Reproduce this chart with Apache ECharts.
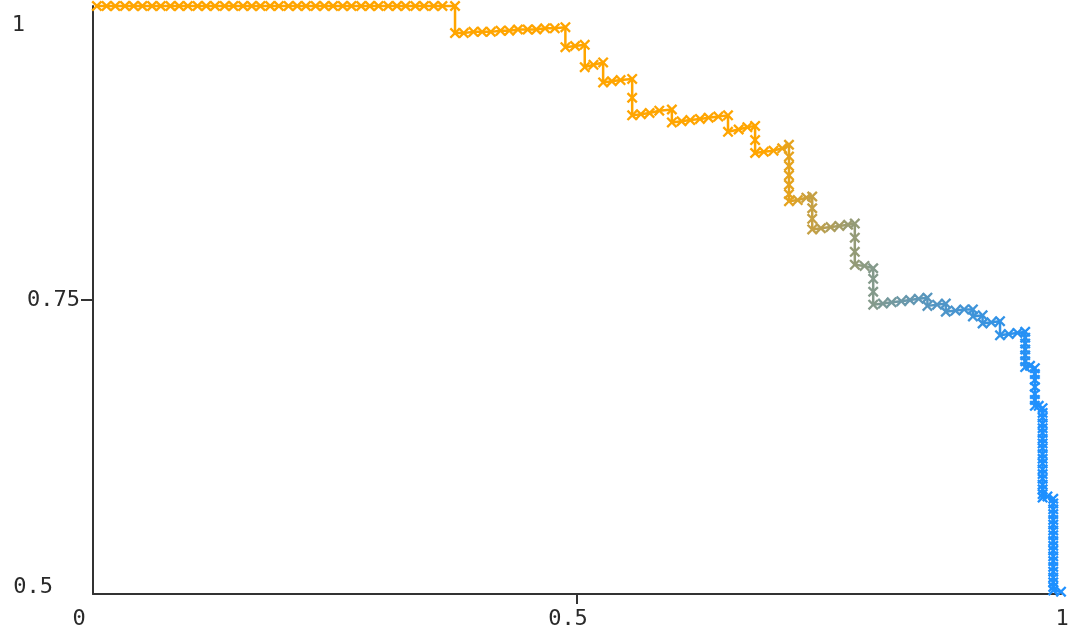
<!DOCTYPE html>
<html>
<head>
<meta charset="utf-8">
<script src="https://cdn.jsdelivr.net/npm/echarts@6/dist/echarts.min.js"></script>
<style>
html,body{margin:0;padding:0;background:#fff;}
#chart{width:1073px;height:642px;}
</style>
</head>
<body>
<div id="chart"></div>
<script>
// Recall (x) values
const recall = [
  0.004,0.014,0.023,0.033,0.042,0.051,0.061,0.070,0.080,0.089,
  0.098,0.108,0.117,0.126,0.136,0.145,0.155,0.164,0.173,0.183,
  0.192,0.202,0.211,0.220,0.230,0.239,0.248,0.258,0.267,0.277,
  0.286,0.295,0.305,0.314,0.323,0.333,0.342,0.352,0.361,0.374,
  0.374,0.383,0.393,0.402,0.411,0.421,0.430,0.439,0.449,0.458,0.467,0.477,0.488,
  0.488,0.498,0.508,
  0.508,0.517,0.527,
  0.527,0.536,0.545,0.557,
  0.557,0.557,0.566,0.575,0.585,0.598,
  0.598,0.608,0.617,0.627,0.636,0.646,0.656,
  0.656,0.667,0.676,0.684,
  0.684,0.684,0.693,0.703,0.712,0.719,
  0.719,0.719,0.719,0.719,0.719,0.719,
  0.728,0.737,0.743,
  0.743,0.743,0.743,
  0.752,0.762,0.771,0.780,0.787,
  0.787,0.787,0.787,
  0.797,0.806,
  0.806,0.806,0.806,
  0.816,0.825,0.835,0.844,0.853,0.862,
  0.862,0.872,0.881,
  0.881,0.891,0.900,0.909,
  0.909,0.919,
  0.919,0.928,0.937,
  0.937,0.946,0.955,0.963,
  0.963,0.963,0.963,0.963,0.963,0.963,
  0.968,0.973,
  0.973,0.973,0.973,0.973,0.973,0.973,
  0.977,0.981,
  0.981,0.981,0.981,0.981,0.981,0.981,0.981,0.981,0.981,0.981,
  0.981,0.981,0.981,0.981,0.981,0.981,0.981,0.981,
  0.986,0.992,
  0.992,0.992,0.992,0.992,0.992,0.992,0.992,0.992,0.992,0.992,
  0.992,0.992,0.992,0.992,0.992,0.992,0.992,0.992,
  1.000
];
// Precision (y) values
const precision = [
  1,1,1,1,1,1,1,1,1,1,
  1,1,1,1,1,1,1,1,1,1,
  1,1,1,1,1,1,1,1,1,1,
  1,1,1,1,1,1,1,1,1,1,
  0.977,0.977,0.978,0.978,0.978,0.979,0.979,0.980,0.980,0.980,0.981,0.981,0.982,
  0.965,0.966,0.967,
  0.948,0.950,0.952,
  0.935,0.936,0.937,0.938,
  0.922,0.907,0.908,0.909,0.911,0.912,
  0.901,0.902,0.903,0.904,0.905,0.906,0.907,
  0.893,0.895,0.897,0.898,
  0.886,0.875,0.876,0.877,0.879,0.882,
  0.872,0.864,0.856,0.848,0.840,0.834,
  0.835,0.837,0.838,
  0.828,0.819,0.810,
  0.811,0.812,0.813,0.814,0.815,
  0.803,0.791,0.780,
  0.779,0.777,
  0.768,0.757,0.746,
  0.747,0.748,0.749,0.750,0.751,0.752,
  0.745,0.746,0.747,
  0.740,0.741,0.742,0.742,
  0.736,0.737,
  0.730,0.731,0.732,
  0.720,0.721,0.722,0.723,
  0.718,0.713,0.708,0.703,0.698,0.693,
  0.694,0.692,
  0.687,0.682,0.676,0.670,0.665,0.660,
  0.660,0.658,
  0.654,0.650,0.645,0.641,0.637,0.632,0.628,0.624,0.619,0.615,
  0.611,0.606,0.602,0.598,0.593,0.589,0.585,0.582,
  0.583,0.581,
  0.577,0.572,0.568,0.563,0.559,0.554,0.550,0.545,0.541,0.537,
  0.532,0.528,0.523,0.519,0.514,0.510,0.506,0.503,
  0.502
];
const xTicks = [0, 0.5, 1];
const yTicks = [0.5, 0.75, 1];

const data = recall.map((r, i) => [r, precision[i]]);
const labelFont = {fontFamily: 'DejaVu Sans Mono', fontSize: 22, color: '#2a2a2a'};

const chart = echarts.init(document.getElementById('chart'), null, {renderer: 'canvas'});
chart.setOption({
  animation: false,
  backgroundColor: '#ffffff',
  grid: {left: 93, right: 12, top: 6, bottom: 48, containLabel: false},
  xAxis: {
    type: 'value', min: xTicks[0], max: xTicks[2], interval: xTicks[1] - xTicks[0],
    axisLine: {show: true, lineStyle: {color: '#333', width: 2}},
    axisTick: {show: true, customValues: [xTicks[1]], length: 10, lineStyle: {color: '#333', width: 2}},
    splitLine: {show: false},
    axisLabel: {
      margin: 14,
      formatter: v => v === 0 ? '{z|0}' : (v === 0.5 ? '{h|0.5}' : '{o|1}'),
      rich: {
        z: Object.assign({padding: [0, 28, 0, 0]}, labelFont),
        h: Object.assign({padding: [0, 18, 0, 0]}, labelFont),
        o: Object.assign({padding: [0, 0, 0, 2]}, labelFont)
      }
    }
  },
  yAxis: {
    type: 'value', min: yTicks[0], max: yTicks[2], interval: yTicks[1] - yTicks[0],
    axisLine: {show: true, lineStyle: {color: '#333', width: 2}},
    axisTick: {show: true, customValues: [yTicks[1]], length: 12, lineStyle: {color: '#333', width: 2}},
    splitLine: {show: false},
    axisLabel: {
      margin: 13,
      formatter: v => v === 1 ? '{o|1}' : (v === 0.5 ? '{h|0.5}' : '{t|0.75}'),
      rich: {
        o: Object.assign({padding: [38, 55, 0, 0]}, labelFont),
        h: Object.assign({padding: [0, 27, 14, 0]}, labelFont),
        t: Object.assign({}, labelFont)
      }
    }
  },
  visualMap: {
    show: false,
    type: 'continuous',
    dimension: 0,
    min: 0.70,
    max: 0.98,
    inRange: {color: ['#FFA500', '#C8A040', '#9A9C70', '#78999A', '#5896BD', '#4394D4', '#3092E8', '#1E90FF']}
  },
  series: [{
    type: 'line',
    data: data,
    showSymbol: true,
    showAllSymbol: true,
    symbol: 'path://M0,1.5 L1.5,0 L5,3.5 L8.5,0 L10,1.5 L6.5,5 L10,8.5 L8.5,10 L5,6.5 L1.5,10 L0,8.5 L3.5,5 Z',
    symbolSize: 11,
    lineStyle: {width: 2.5},
    clip: false
  }]
});
</script>
</body>
</html>
